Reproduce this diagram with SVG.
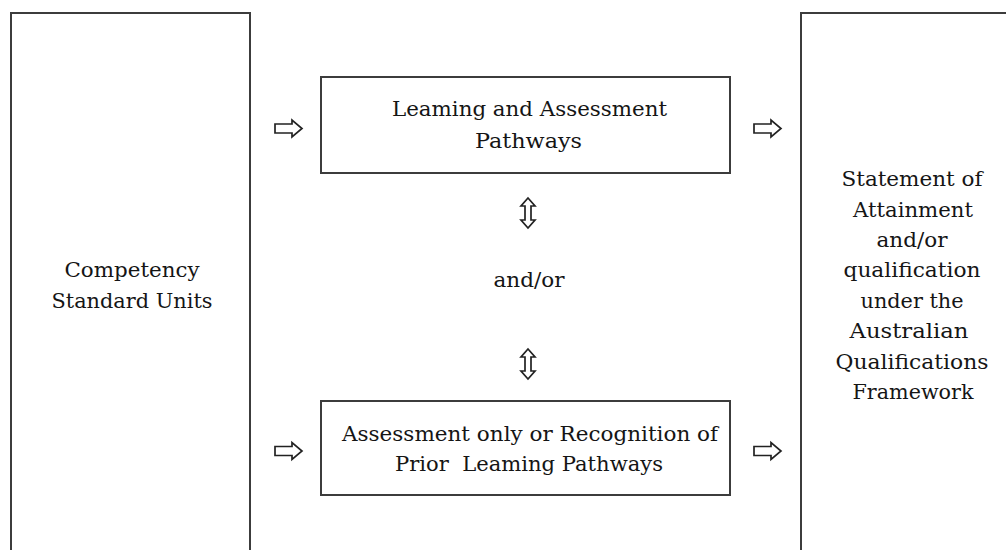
<svg xmlns="http://www.w3.org/2000/svg" width="1006" height="550" viewBox="0 0 1006 550">
<defs>
<style>
.box{fill:#fff;stroke:#3c3c3c;stroke-width:2}
.t{font-family:"DejaVu Serif","Liberation Serif",serif;font-size:20.5px;fill:#151515;text-anchor:middle}
.arr{fill:#fff;stroke:#222;stroke-width:1.7;stroke-linejoin:miter}
</style>
<path id="ra" d="M0,-4.5 H17 V-8.5 L27,0 L17,8.5 V4.5 H0 Z"/>
<path id="va" d="M0,-15 L7,-7 H3 V7 H7 L0,15 L-7,7 H-3 V-7 H-7 Z"/>
</defs>
<rect width="1006" height="550" fill="#fff"/>
<g id="competency">
<rect class="box" x="11" y="13" width="239" height="560"/>
<text class="t" x="132" y="277" textLength="135" lengthAdjust="spacingAndGlyphs">Competency</text>
<text class="t" x="132" y="308" textLength="161" lengthAdjust="spacingAndGlyphs">Standard Units</text>
</g>
<g id="learning">
<rect class="box" x="321" y="77" width="409" height="96"/>
<text class="t" x="529.5" y="115.5" textLength="275" lengthAdjust="spacingAndGlyphs">Leaming and Assessment</text>
<text class="t" x="528.5" y="148" textLength="107" lengthAdjust="spacingAndGlyphs">Pathways</text>
</g>
<g id="andor">
<text class="t" x="529" y="287" textLength="71" lengthAdjust="spacingAndGlyphs">and/or</text>
</g>
<g id="rpl">
<rect class="box" x="321" y="401" width="409" height="94"/>
<text class="t" x="530" y="441" textLength="376" lengthAdjust="spacingAndGlyphs">Assessment only or Recognition of</text>
<text class="t" x="529" y="471" textLength="268" lengthAdjust="spacingAndGlyphs" xml:space="preserve">Prior  Leaming Pathways</text>
</g>
<g id="statement">
<rect class="box" x="801" y="13" width="260" height="560"/>
<text class="t" x="912" y="186" textLength="141" lengthAdjust="spacingAndGlyphs">Statement of</text>
<text class="t" x="913" y="216.5" textLength="120" lengthAdjust="spacingAndGlyphs">Attainment</text>
<text class="t" x="912" y="247" textLength="71" lengthAdjust="spacingAndGlyphs">and/or</text>
<text class="t" x="912" y="277" textLength="137" lengthAdjust="spacingAndGlyphs">qualification</text>
<text class="t" x="912" y="308" textLength="103" lengthAdjust="spacingAndGlyphs">under the</text>
<text class="t" x="909" y="338" textLength="119" lengthAdjust="spacingAndGlyphs">Australian</text>
<text class="t" x="912" y="368.5" textLength="153" lengthAdjust="spacingAndGlyphs">Qualifications</text>
<text class="t" x="913" y="399" textLength="121" lengthAdjust="spacingAndGlyphs">Framework</text>
</g>
<g id="connectors">
<use href="#ra" class="arr" x="275" y="128.5"/>
<use href="#ra" class="arr" x="754" y="128.5"/>
<use href="#ra" class="arr" x="275" y="451"/>
<use href="#ra" class="arr" x="754" y="451"/>
<use href="#va" class="arr" x="528" y="213"/>
<use href="#va" class="arr" x="528" y="364"/>
</g>
</svg>
